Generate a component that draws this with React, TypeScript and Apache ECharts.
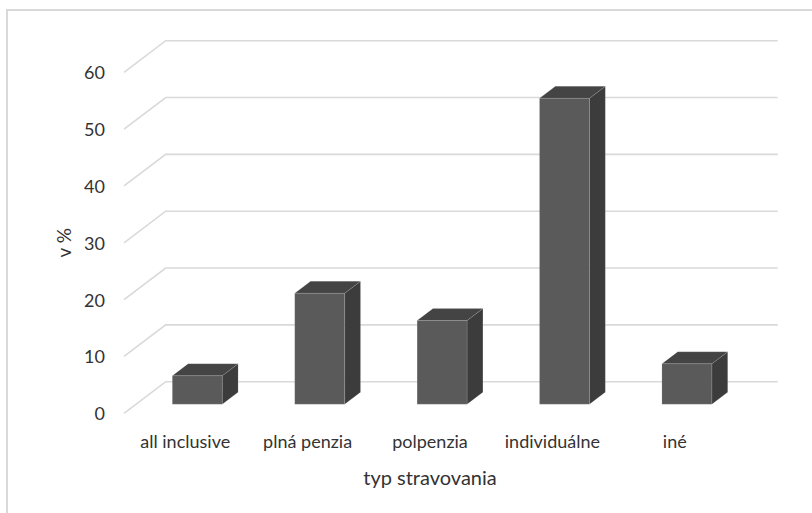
import React, { useEffect, useRef } from "react";
import * as echarts from "echarts";

const categories = ["all inclusive", "plná penzia", "polpenzia", "individuálne", "iné"];
const values = [5, 19.5, 14.7, 53.8, 7.1];
const yTicks = [0, 10, 20, 30, 40, 50, 60];
const xTitle = "typ stravovania";
const yTitle = "v %";

const DX = 41.7;
const DY = -31.6;
const F0 = 0.29;
const F1 = 0.67;
const FONT = "Lato";
const TEXT = "#333333";

export default function App() {
  const ref = useRef<HTMLDivElement>(null);
  useEffect(() => {
    if (!ref.current) return;
    const chart = echarts.init(ref.current, undefined, { renderer: "svg" });
    chart.setOption({
      animation: false,
      backgroundColor: "#ffffff",
      graphic: [
        {
          type: "rect",
          shape: { x: 7, y: 10, width: 900, height: 700 },
          style: { fill: "none", stroke: "#d9d9d9", lineWidth: 2 },
          silent: true,
          z: -10,
        },
      ],
      grid: { left: 124, right: 76, top: 72.3, bottom: 99.7 },
      xAxis: {
        type: "category",
        data: categories,
        boundaryGap: true,
        axisLine: { show: false },
        axisTick: { show: false },
        splitLine: { show: false },
        axisLabel: { color: TEXT, fontFamily: FONT, fontSize: 18, margin: 19, interval: 0 },
        name: xTitle,
        nameLocation: "middle",
        nameGap: 54,
        nameTextStyle: { color: TEXT, fontFamily: FONT, fontSize: 20 },
      },
      yAxis: {
        type: "value",
        min: 0,
        max: 60,
        interval: 10,
        axisLine: { show: false },
        axisTick: { show: false },
        splitLine: { show: false },
        axisLabel: { color: TEXT, fontFamily: FONT, fontSize: 18, margin: 19 },
        name: yTitle,
        nameLocation: "middle",
        nameGap: 50,
        nameTextStyle: { color: TEXT, fontFamily: FONT, fontSize: 19 },
      },
      series: [
        {
          type: "custom",
          z: 1,
          silent: true,
          data: yTicks.map((t) => [0, t]),
          renderItem: (params: any, api: any) => {
            const cs = params.coordSys;
            const p = api.coord([0, api.value(1)]);
            const y = p[1];
            const x0 = cs.x;
            return {
              type: "polyline",
              shape: {
                points: [
                  [x0, y],
                  [x0 + DX, y + DY],
                  [x0 + cs.width + DX, y + DY],
                ],
              },
              style: { stroke: "#d9d9d9", lineWidth: 1.6, fill: "none" },
            };
          },
        },
        {
          type: "custom",
          z: 2,
          silent: true,
          data: values.map((v, i) => [i, v]),
          renderItem: (params: any, api: any) => {
            const idx = api.value(0);
            const val = api.value(1);
            const base = api.coord([idx, 0]);
            const topP = api.coord([idx, val]);
            const bw = api.size([1, 0])[0];
            const hw = bw * 0.204;
            const cx = base[0] + F0 * DX;
            const L = cx - hw;
            const R = cx + hw;
            const bot = base[1] + F0 * DY;
            const top = topP[1] + F0 * DY;
            const bx = (F1 - F0) * DX;
            const by = (F1 - F0) * DY;
            const edge = "rgba(255,255,255,0.18)";
            return {
              type: "group",
              children: [
                {
                  type: "polygon",
                  shape: { points: [[R, top], [R + bx, top + by], [R + bx, bot + by], [R, bot]] },
                  style: { fill: "#3c3c3c", stroke: edge, lineWidth: 0.6 },
                },
                {
                  type: "polygon",
                  shape: { points: [[L, top], [R, top], [R + bx, top + by], [L + bx, top + by]] },
                  style: { fill: "#444444", stroke: edge, lineWidth: 0.6 },
                },
                {
                  type: "rect",
                  shape: { x: L, y: top, width: R - L, height: bot - top },
                  style: { fill: "#5a5a5a", stroke: edge, lineWidth: 0.6 },
                },
              ],
            };
          },
        },
      ],
    });
    return () => chart.dispose();
  }, []);
  return (
    <div
      ref={ref}
      style={{ position: "fixed", left: 0, top: 0, width: 812, height: 513 }}
    />
  );
}
